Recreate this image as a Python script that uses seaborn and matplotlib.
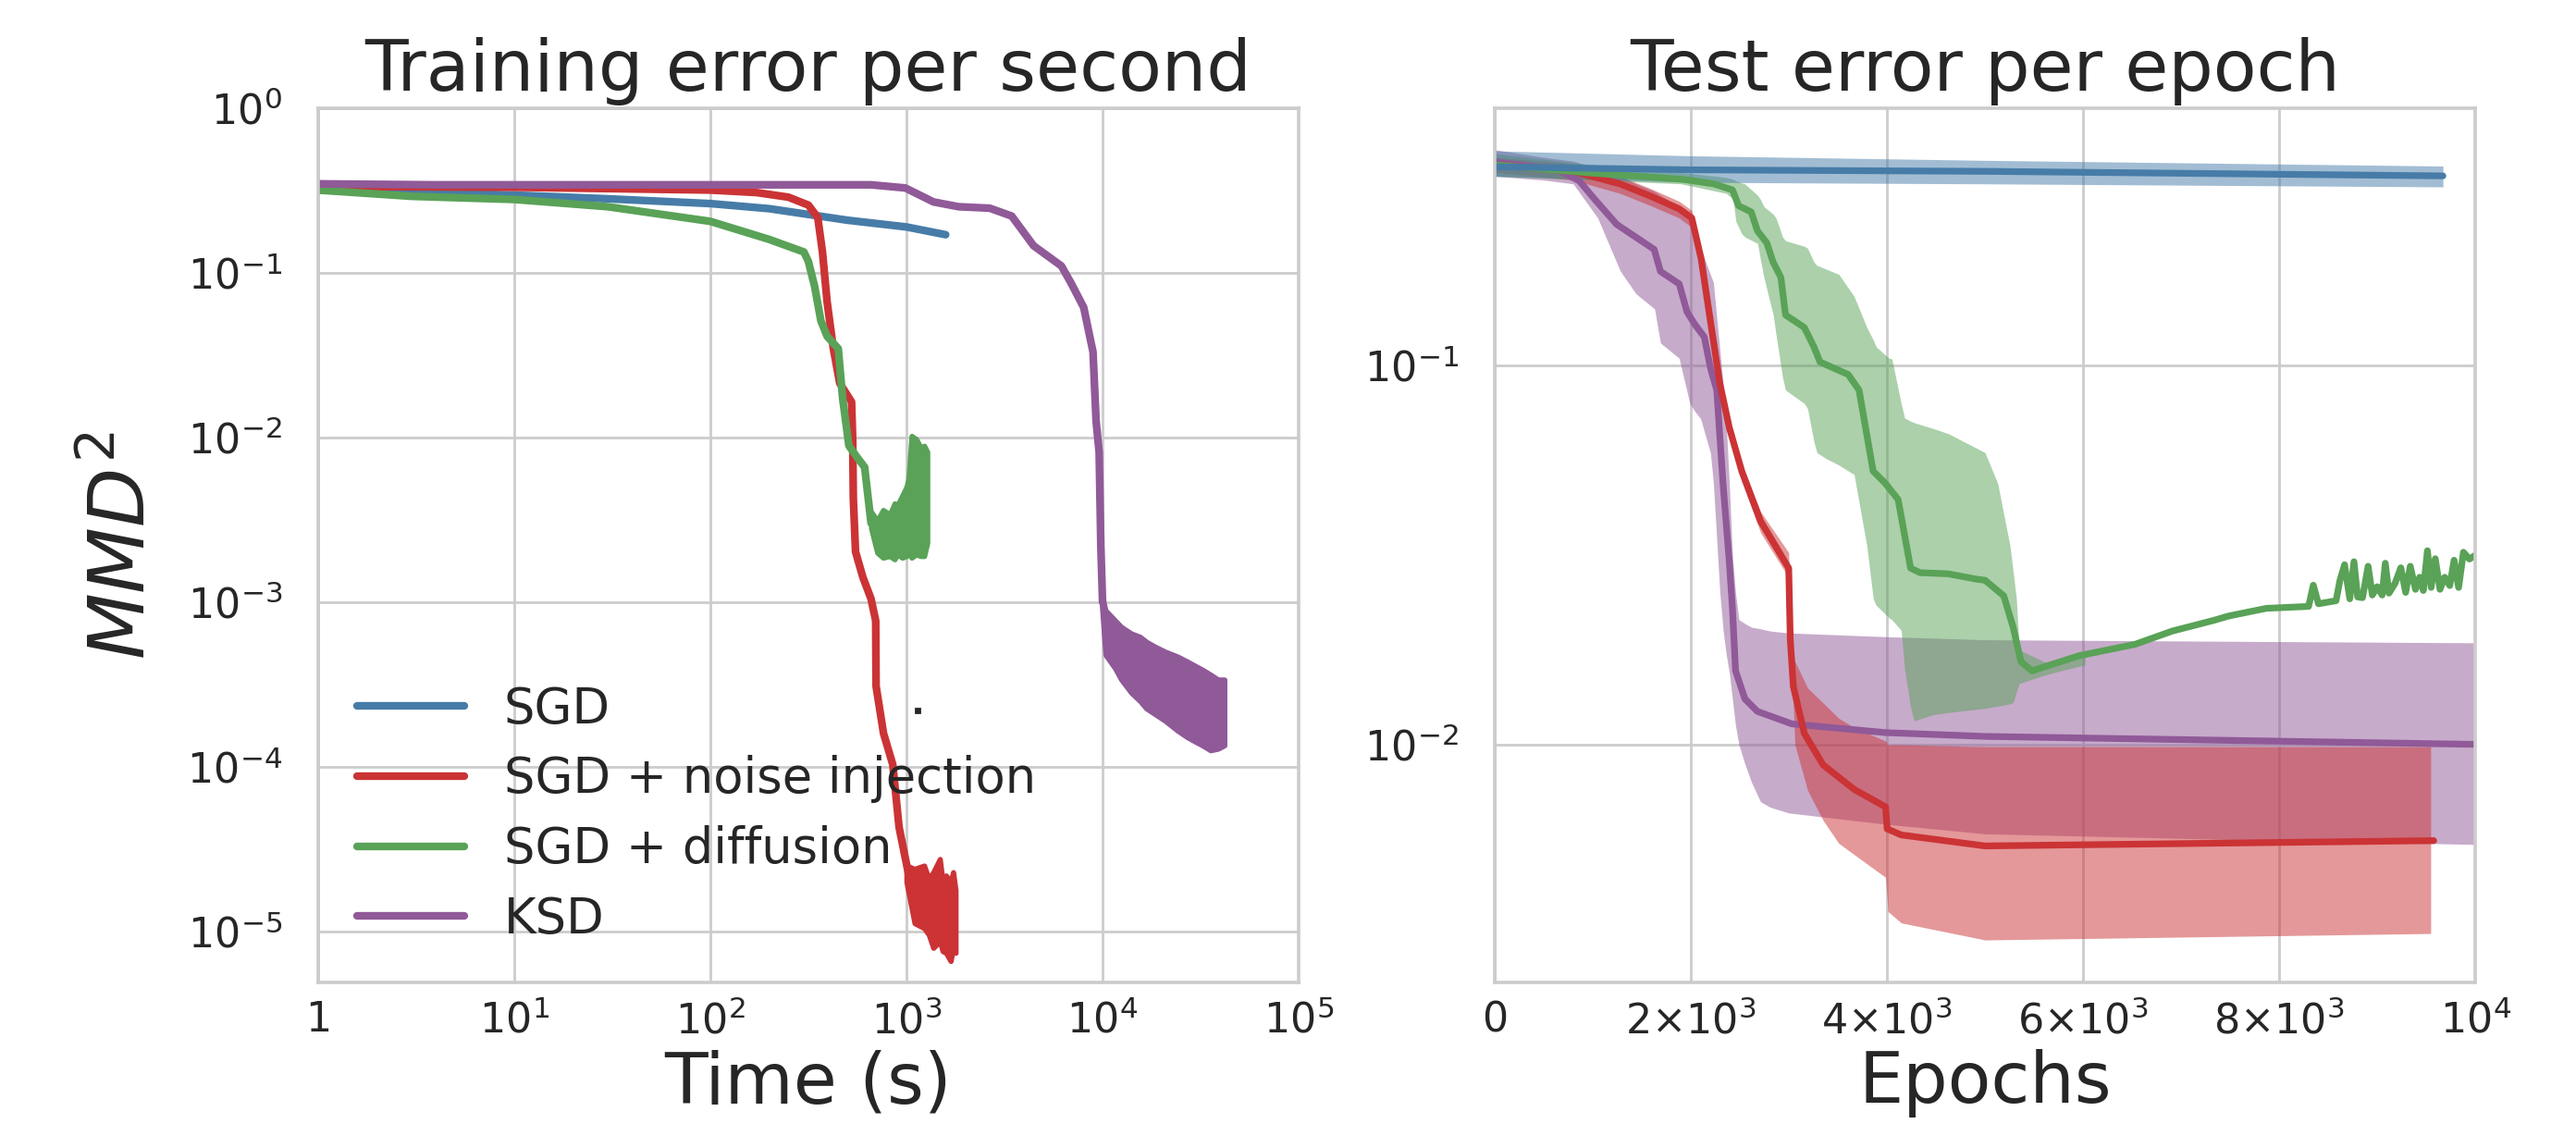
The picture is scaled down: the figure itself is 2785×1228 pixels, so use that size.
import numpy as np
import matplotlib
matplotlib.use('Agg')
import matplotlib.pyplot as plt
from matplotlib.ticker import FixedLocator, FixedFormatter, NullLocator
import seaborn as sns

sns.set_theme(style='whitegrid')
plt.rcParams['font.family'] = ['DejaVu Sans']
plt.rcParams['mathtext.fontset'] = 'dejavusans'

labels = ['SGD', 'SGD + noise injection', 'SGD + diffusion', 'KSD']
red, blue, green, purple = sns.color_palette('Set1', desat=0.75)[:4]

# ---------- left panel: training error vs wall time (log10 of MMD^2) ----------
sgd_t = [1, 3, 10, 30, 100, 200, 316, 500, 1000, 1585]
sgd_logv = [-0.498, -0.51, -0.527, -0.55, -0.579, -0.61, -0.645, -0.68, -0.721, -0.768]

noise_t = [1, 10, 100, 172, 250, 316, 353, 373, 394, 424, 457, 525, 532, 536, 550, 600,
           660, 697, 700, 764, 852, 917, 1024]
noise_logv = [-0.474, -0.48, -0.497, -0.512, -0.54, -0.588, -0.664, -0.873, -1.176, -1.461,
              -1.67, -1.784, -2.011, -2.372, -2.694, -2.85, -2.98, -3.113, -3.51, -3.797,
              -3.987, -4.367, -4.65]
noise_band_t = [1000, 1100, 1230, 1300, 1370, 1480, 1530, 1590, 1680, 1730, 1780]
noise_band_hi = [-4.6, -4.62, -4.6, -4.68, -4.64, -4.56, -4.7, -4.66, -4.70, -4.64, -4.75]
noise_band_lo = [-4.7, -4.95, -4.98, -5.02, -5.10, -5.06, -5.12, -5.13, -5.18, -5.10, -5.13]

diff_t = [1, 3, 10, 30, 100, 200, 300, 316, 340, 366, 394, 449, 473, 509, 560, 612, 660]
diff_logv = [-0.497, -0.535, -0.554, -0.598, -0.687, -0.797, -0.873, -0.93, -1.08, -1.29,
             -1.385, -1.46, -1.765, -2.05, -2.12, -2.18, -2.52]
diff_band_t = [660, 710, 760, 822, 870, 901, 951, 1000, 1024, 1062, 1122, 1180, 1231, 1277]
diff_band_hi = [-2.45, -2.505, -2.44, -2.467, -2.40, -2.41, -2.353, -2.30, -2.25, -1.99, -2.01,
                -2.06, -2.05, -2.087]
diff_band_lo = [-2.55, -2.70, -2.73, -2.72, -2.74, -2.71, -2.73, -2.72, -2.70, -2.73, -2.71,
                -2.72, -2.72, -2.64]

ksd_t = [1, 3.9, 10, 100, 316, 660, 986, 1374, 1845, 2661, 3443, 4449, 6170, 6918, 8017,
         8940, 9270, 9610, 9800, 10000]
ksd_logv = [-0.459, -0.465, -0.465, -0.465, -0.465, -0.465, -0.484, -0.569, -0.598, -0.607,
            -0.655, -0.835, -0.958, -1.063, -1.21, -1.48, -1.90, -2.09, -2.657, -3.0]
ksd_band_t = [9900, 10350, 11560, 12450, 14000, 15500, 16700, 18500, 20800, 24100, 27000,
              30000, 32300, 35500, 38800, 41800]
ksd_band_hi = [-2.95, -3.05, -3.11, -3.15, -3.19, -3.21, -3.24, -3.27, -3.30, -3.33, -3.36,
               -3.39, -3.41, -3.44, -3.47, -3.47]
ksd_band_lo = [-3.0, -3.32, -3.40, -3.47, -3.55, -3.60, -3.645, -3.68, -3.72, -3.78, -3.82,
               -3.85, -3.87, -3.90, -3.89, -3.87]

stray_pt = (1135, 2.2e-4)

# ---------- right panel: test error vs epochs (log10 of MMD^2) ----------
sgd_e = [0, 2000, 5000, 9670]
sgd_e_logv = [-0.475, -0.483, -0.487, -0.499]
sgd_e_hi = [-0.433, -0.446, -0.458, -0.473]
sgd_e_lo = [-0.50, -0.516, -0.52, -0.528]

noise_e = [0, 797, 1276, 1594, 1880, 2009, 2105, 2200, 2296, 2392, 2519, 2711, 2998, 3014,
           3045, 3157, 3348, 3667, 3986, 4002, 4146, 5000, 9576]
noise_e_logv = [-0.47, -0.487, -0.52, -0.553, -0.586, -0.61, -0.718, -0.883, -1.047, -1.163,
                -1.278, -1.41, -1.534, -1.723, -1.846, -1.97, -2.053, -2.118, -2.164, -2.222,
                -2.238, -2.267, -2.253]
noise_e_band_x = [0, 797, 1276, 1594, 1880, 2009, 2105, 2200, 2296, 2392, 2519, 2711, 2998,
                  3005, 3030, 3061, 3190, 3350, 3508, 3667, 3986, 4010, 4146, 5000, 9545]
noise_e_hi = [-0.45, -0.467, -0.50, -0.533, -0.566, -0.59, -0.70, -0.865, -1.03, -1.145,
              -1.26, -1.385, -1.493, -1.60, -1.74, -1.78, -1.85, -1.89, -1.93, -1.955, -1.99,
              -2.0, -2.0, -2.005, -2.005]
noise_e_lo = [-0.49, -0.51, -0.545, -0.578, -0.61, -0.635, -0.74, -0.905, -1.07, -1.19,
              -1.305, -1.44, -1.559, -1.65, -1.80, -2.0, -2.12, -2.2, -2.26, -2.29, -2.35,
              -2.44, -2.47, -2.515, -2.498]

diff_e = [0, 957, 1913, 2232, 2424, 2487, 2615, 2679, 2775, 2838, 2918, 2966, 3157, 3253,
          3317, 3604, 3715, 3859, 3986, 4114, 4241, 4337, 4624, 4911, 5000, 5191, 5287, 5367,
          5478, 5960, 6530, 6910, 7330, 7490, 7870, 8300, 8348, 8400, 8580, 8620, 8667, 8720,
          8763, 8800, 8850, 8907, 8950, 9000, 9050, 9082, 9120, 9180, 9241, 9290, 9337, 9390,
          9433, 9470, 9512, 9550, 9592, 9640, 9688, 9740, 9784, 9830, 9879, 9940, 10000]
diff_e_logv = [-0.47, -0.491, -0.508, -0.52, -0.536, -0.578, -0.594, -0.644, -0.676, -0.726,
               -0.767, -0.866, -0.899, -0.949, -0.99, -1.023, -1.064, -1.278, -1.311, -1.353,
               -1.534, -1.546, -1.549, -1.563, -1.566, -1.607, -1.69, -1.781, -1.805, -1.765,
               -1.735, -1.70, -1.672, -1.66, -1.64, -1.635, -1.579, -1.628, -1.62, -1.566,
               -1.525, -1.615, -1.517, -1.61, -1.612, -1.529, -1.605, -1.583, -1.605, -1.521,
               -1.60, -1.575, -1.533, -1.598, -1.529, -1.59, -1.558, -1.593, -1.488, -1.585,
               -1.509, -1.59, -1.558, -1.58, -1.513, -1.585, -1.492, -1.51, -1.50]
diff_e_band_x = [0, 1000, 1900, 2360, 2430, 2460, 2520, 2550, 2680, 2710, 2745, 2840, 2870,
                 2935, 2965, 3160, 3190, 3255, 3285, 3380, 3510, 3665, 3795, 3860, 3890, 4020,
                 4050, 4145, 4180, 4240, 4275, 4465, 4625, 5000, 5130, 5255, 5290, 5320, 5350,
                 5640, 6020]
diff_e_hi = [-0.44, -0.47, -0.49, -0.503, -0.508, -0.512, -0.518, -0.52, -0.55, -0.561, -0.58,
             -0.60, -0.611, -0.66, -0.67, -0.685, -0.69, -0.726, -0.735, -0.745, -0.759, -0.817,
             -0.899, -0.932, -0.95, -0.98, -0.982, -1.10, -1.138, -1.146, -1.15, -1.165,
             -1.179, -1.229, -1.311, -1.476, -1.55, -1.615, -1.75, -1.785, -1.76]
diff_e_lo = [-0.50, -0.51, -0.52, -0.545, -0.56, -0.62, -0.652, -0.66, -0.677, -0.72, -0.767,
             -0.866, -0.92, -1.03, -1.064, -1.10, -1.113, -1.20, -1.229, -1.245, -1.262, -1.287,
             -1.476, -1.615, -1.632, -1.665, -1.67, -1.698, -1.80, -1.90, -1.937, -1.921,
             -1.915, -1.904, -1.898, -1.892, -1.888, -1.86, -1.838, -1.814, -1.789]

ksd_e = [0, 638, 861, 1020, 1244, 1435, 1626, 1690, 1881, 1961, 2041, 2137, 2200, 2264, 2328,
         2392, 2424, 2456, 2551, 2679, 3030, 3986, 5000, 10000]
ksd_e_logv = [-0.462, -0.483, -0.512, -0.561, -0.627, -0.66, -0.693, -0.751, -0.784, -0.858,
              -0.891, -0.924, -1.006, -1.064, -1.311, -1.517, -1.64, -1.805, -1.879, -1.912,
              -1.945, -1.968, -1.978, -1.999]
ksd_e_band_x = [0, 500, 800, 1050, 1280, 1440, 1630, 1690, 1880, 1990, 2040, 2100, 2200, 2230,
                2296, 2330, 2360, 2392, 2424, 2456, 2490, 2550, 2620, 2710, 2810, 3000, 3500,
                4000, 5000, 7500, 10000]
ksd_e_hi = [-0.43, -0.45, -0.46, -0.48, -0.50, -0.52, -0.54, -0.55, -0.58, -0.61, -0.65,
            -0.69, -0.76, -0.78, -0.96, -1.05, -1.15, -1.31, -1.50, -1.60, -1.67, -1.68, -1.69,
            -1.694, -1.70, -1.705, -1.71, -1.715, -1.723, -1.727, -1.731]
ksd_e_lo = [-0.50, -0.51, -0.52, -0.61, -0.75, -0.81, -0.85, -0.94, -0.98, -1.10, -1.12,
            -1.14, -1.23, -1.31, -1.60, -1.70, -1.76, -1.81, -1.88, -1.95, -2.00, -2.05, -2.10,
            -2.15, -2.165, -2.18, -2.195, -2.21, -2.235, -2.25, -2.263]

x_left_ticks = [1, 10, 100, 1000, 10000, 100000]
x_left_labels = ['1', r'$\mathdefault{10^{1}}$', r'$\mathdefault{10^{2}}$',
                 r'$\mathdefault{10^{3}}$', r'$\mathdefault{10^{4}}$', r'$\mathdefault{10^{5}}$']
x_right_ticks = [0, 2000, 4000, 6000, 8000, 10000]
x_right_labels = ['0', r'$\mathdefault{2{\times}10^{3}}$', r'$\mathdefault{4{\times}10^{3}}$',
                  r'$\mathdefault{6{\times}10^{3}}$', r'$\mathdefault{8{\times}10^{3}}$',
                  r'$\mathdefault{10^{4}}$']


def p10(a):
    return 10 ** np.asarray(a, dtype=float)


fig, (ax1, ax2) = plt.subplots(1, 2, figsize=(13.925, 6.14))
fig.subplots_adjust(left=0.1235, right=0.9609, bottom=0.1352, top=0.9047, wspace=0.2)

lw_left = 3.0
lw_right = 2.6

# left panel
ax1.set_xscale('log')
ax1.set_yscale('log')
sns.lineplot(x=sgd_t, y=p10(sgd_logv), ax=ax1, color=blue, lw=lw_left, sort=False,
             estimator=None, label=labels[0])
sns.lineplot(x=noise_t, y=p10(noise_logv), ax=ax1, color=red, lw=lw_left, sort=False,
             estimator=None, label=labels[1])
ax1.fill_between(noise_band_t, p10(noise_band_lo), p10(noise_band_hi), color=red, lw=2)
sns.lineplot(x=diff_t, y=p10(diff_logv), ax=ax1, color=green, lw=lw_left, sort=False,
             estimator=None, label=labels[2])
ax1.fill_between(diff_band_t, p10(diff_band_lo), p10(diff_band_hi), color=green, lw=2)
sns.lineplot(x=ksd_t, y=p10(ksd_logv), ax=ax1, color=purple, lw=lw_left, sort=False,
             estimator=None, label=labels[3])
ax1.fill_between(ksd_band_t, p10(ksd_band_lo), p10(ksd_band_hi), color=purple, lw=2)
ax1.plot([stray_pt[0]], [stray_pt[1]], 's', ms=1.4, color='.15')

ax1.set_xlim(1, 1e5)
ax1.set_ylim(4.9e-6, 1)
ax1.xaxis.set_major_locator(FixedLocator(x_left_ticks))
ax1.xaxis.set_major_formatter(FixedFormatter(x_left_labels))
ax1.xaxis.set_minor_locator(NullLocator())
ax1.yaxis.set_minor_locator(NullLocator())
ax1.set_title('Training error per second', fontsize=27.5, pad=7)
ax1.set_xlabel('Time (s)', fontsize=27.5, labelpad=3)
ax1.set_ylabel(r'$MMD^2$', fontsize=30, labelpad=10)
ax1.legend(loc='lower left', fontsize=19, frameon=False, handlelength=2.2,
           borderaxespad=0.4, labelspacing=0.45)

# right panel
ax2.set_yscale('log')
ax2.fill_between(ksd_e_band_x, p10(ksd_e_lo), p10(ksd_e_hi), color=purple, alpha=0.5, lw=0)
sns.lineplot(x=ksd_e, y=p10(ksd_e_logv), ax=ax2, color=purple, lw=lw_right, sort=False,
             estimator=None, legend=False)
ax2.fill_between(noise_e_band_x, p10(noise_e_lo), p10(noise_e_hi), color=red, alpha=0.5, lw=0)
sns.lineplot(x=noise_e, y=p10(noise_e_logv), ax=ax2, color=red, lw=lw_right, sort=False,
             estimator=None, legend=False)
ax2.fill_between(diff_e_band_x, p10(diff_e_lo), p10(diff_e_hi), color=green, alpha=0.5, lw=0)
sns.lineplot(x=diff_e, y=p10(diff_e_logv), ax=ax2, color=green, lw=lw_right, sort=False,
             estimator=None, legend=False)
ax2.fill_between(sgd_e, p10(sgd_e_lo), p10(sgd_e_hi), color=blue, alpha=0.5, lw=0)
sns.lineplot(x=sgd_e, y=p10(sgd_e_logv), ax=ax2, color=blue, lw=lw_right, sort=False,
             estimator=None, legend=False)

ax2.set_xlim(0, 10000)
ax2.set_ylim(0.00236, 0.478)
ax2.xaxis.set_major_locator(FixedLocator(x_right_ticks))
ax2.xaxis.set_major_formatter(FixedFormatter(x_right_labels))
ax2.yaxis.set_major_locator(FixedLocator([0.01, 0.1]))
ax2.yaxis.set_minor_locator(NullLocator())
ax2.set_title('Test error per epoch', fontsize=27.5, pad=7)
ax2.set_xlabel('Epochs', fontsize=27.5, labelpad=3)
ax2.set_ylabel('')

for ax in (ax1, ax2):
    ax.tick_params(axis='x', labelsize=16, pad=1)
    ax.tick_params(axis='y', labelsize=16, pad=8)
    ax.grid(True, which='major', color='.8', lw=1.0)
    for s in ax.spines.values():
        s.set_color('.8')
        s.set_linewidth(1.3)

fig.savefig('out.png', dpi=200)
plt.close()
